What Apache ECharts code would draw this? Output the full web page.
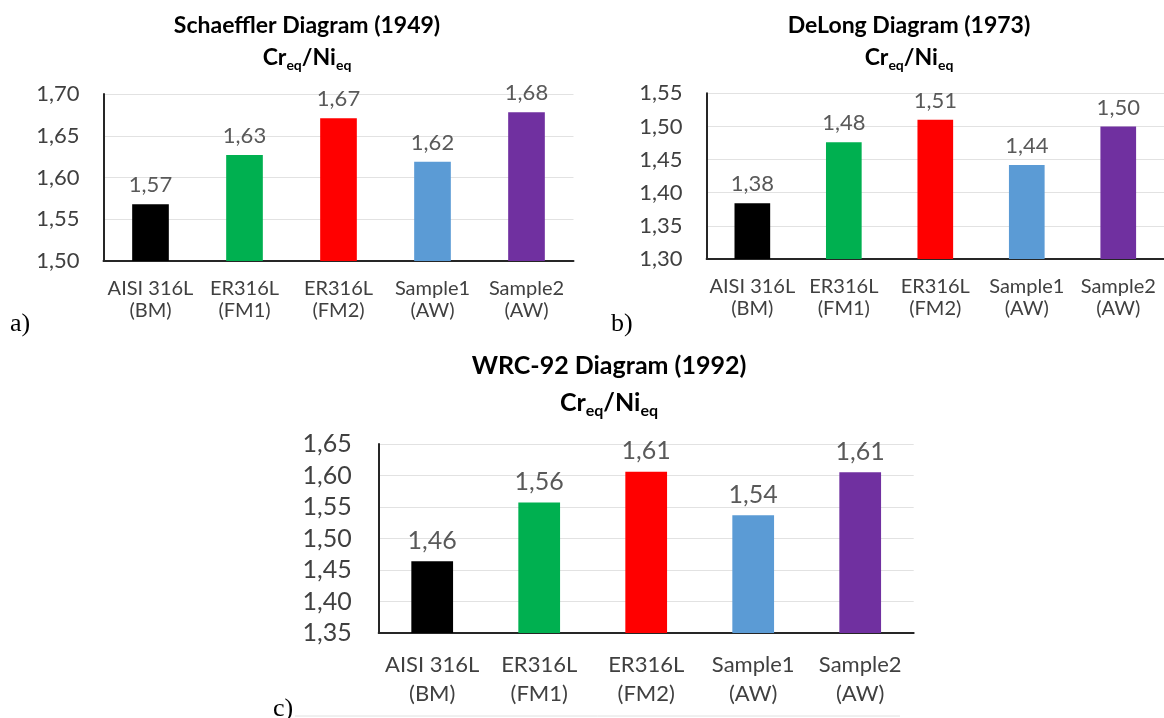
<!DOCTYPE html>
<html>
<head>
<meta charset="utf-8">
<script src="https://cdn.jsdelivr.net/npm/echarts@6/dist/echarts.min.js"></script>
<style>
  html, body { margin: 0; padding: 0; background: #ffffff; }
  #chart { width: 1164px; height: 718px; }
</style>
</head>
<body>
<div id="chart"></div>
<script>
// Categories shared by the three panels
const categories = ['AISI 316L\n(BM)', 'ER316L\n(FM1)', 'ER316L\n(FM2)', 'Sample1\n(AW)', 'Sample2\n(AW)'];
const barColors = ['#000000', '#00b050', '#ff0000', '#5b9bd5', '#7030a0'];

// Cr_eq / Ni_eq ratios per diagram
const schaefflerValues = [1.568, 1.627, 1.671, 1.619, 1.678];
const delongValues = [1.384, 1.476, 1.510, 1.442, 1.500];
const wrcValues = [1.464, 1.557, 1.606, 1.537, 1.605];

// Value-axis tick labels per diagram
const schaefflerTicks = [1.50, 1.55, 1.60, 1.65, 1.70];
const delongTicks = [1.30, 1.35, 1.40, 1.45, 1.50, 1.55];
const wrcTicks = [1.35, 1.40, 1.45, 1.50, 1.55, 1.60, 1.65];

const panelTitles = ['Schaeffler Diagram (1949)', 'DeLong Diagram (1973)', 'WRC-92 Diagram (1992)'];
const panelLetters = ['a)', 'b)', 'c)'];

// Decimal comma, two places
const fmt = v => (Math.round(v * 100 + 1e-6) / 100).toFixed(2).replace('.', ',');

const FONT = 'Lato, "Open Sans", sans-serif';
const SERIF = '"Liberation Serif", "DejaVu Serif", serif';

// Panel layout (pixel boxes and text sizes)
const panels = [
  { values: schaefflerValues, ticks: schaefflerTicks,
    grid: { left: 103.5, top: 94, width: 470, height: 167 },
    titleX: 307, titleY: [26, 58], letterX: 10, letterY: 324,
    yFont: 22, yMargin: 24, xFont: 20, xLine: 22, xMargin: 17, valFont: 22, titleFont: 23, subFont: 14 },
  { values: delongValues, ticks: delongTicks,
    grid: { left: 706.6, top: 93.3, width: 468, height: 165.7 },
    titleX: 909, titleY: [26, 58], letterX: 611, letterY: 324,
    yFont: 22, yMargin: 24, xFont: 20, xLine: 22, xMargin: 17, valFont: 22, titleFont: 23, subFont: 14 },
  { values: wrcValues, ticks: wrcTicks,
    grid: { left: 378.7, top: 444, width: 535, height: 189 },
    titleX: 609, titleY: [366, 403], letterX: 273, letterY: 709,
    yFont: 25, yMargin: 27, xFont: 22, xLine: 29, xMargin: 17, valFont: 25, titleFont: 25, subFont: 16 }
];

const grids = [], xAxes = [], yAxes = [], series = [], graphics = [];

panels.forEach((p, i) => {
  const step = Math.round((p.ticks[1] - p.ticks[0]) * 1000) / 1000;
  grids.push(Object.assign({ containLabel: false }, p.grid));
  xAxes.push({
    gridIndex: i, type: 'category', data: categories,
    axisTick: { show: false },
    axisLine: { show: true, lineStyle: { color: '#262626', width: 2 } },
    axisLabel: { interval: 0, color: '#404040', fontFamily: FONT, fontSize: p.xFont, lineHeight: p.xLine, margin: p.xMargin }
  });
  yAxes.push({
    gridIndex: i, type: 'value',
    min: p.ticks[0], max: p.ticks[p.ticks.length - 1], interval: step,
    axisLine: { show: true, lineStyle: { color: '#262626', width: 2 } },
    axisTick: { show: false },
    splitLine: { show: true, lineStyle: { color: '#e2e2e2', width: 1 } },
    axisLabel: { formatter: v => fmt(v), color: '#404040', fontFamily: FONT, fontSize: p.yFont, margin: p.yMargin }
  });
  series.push({
    type: 'bar', xAxisIndex: i, yAxisIndex: i, barWidth: '39%',
    data: p.values.map((v, k) => ({ value: v, itemStyle: { color: barColors[k] } })),
    label: { show: true, position: 'top', distance: 8, color: '#595959', fontFamily: FONT, fontSize: p.valFont,
             formatter: q => fmt(q.value) }
  });

  // Two-line heading: name, then Cr_eq/Ni_eq with subscripts
  graphics.push({
    type: 'text', x: p.titleX, y: p.titleY[0],
    style: { text: panelTitles[i], fontFamily: FONT, fontWeight: 'bold', fontSize: p.titleFont,
             fill: '#000000', align: 'center', verticalAlign: 'middle' }
  });
  graphics.push({
    type: 'text', x: p.titleX, y: p.titleY[1],
    style: {
      text: '{m|Cr}{s|eq}{m|/Ni}{s|eq}', align: 'center', verticalAlign: 'middle',
      rich: {
        m: { fontFamily: FONT, fontWeight: 'bold', fontSize: p.titleFont, lineHeight: p.titleFont + 6, fill: '#000000' },
        s: { fontFamily: FONT, fontWeight: 'bold', fontSize: p.subFont, lineHeight: p.subFont, fill: '#000000',
             padding: [p.titleFont + 6 - p.subFont, 0, 0, 0] }
      }
    }
  });
  graphics.push({
    type: 'text', x: p.letterX, y: p.letterY,
    style: { text: panelLetters[i], fontFamily: SERIF, fontSize: 26,
             fill: '#000000', align: 'left', verticalAlign: 'middle' }
  });
});

// Faint rule beneath panel c
graphics.push({
  type: 'line', shape: { x1: 295, y1: 716, x2: 900, y2: 716 },
  style: { stroke: '#e0e0e0', lineWidth: 1 }
});

const chart = echarts.init(document.getElementById('chart'), null, { renderer: 'canvas' });
chart.setOption({
  backgroundColor: '#ffffff',
  animation: false,
  grid: grids,
  xAxis: xAxes,
  yAxis: yAxes,
  series: series,
  graphic: graphics
});
</script>
</body>
</html>
